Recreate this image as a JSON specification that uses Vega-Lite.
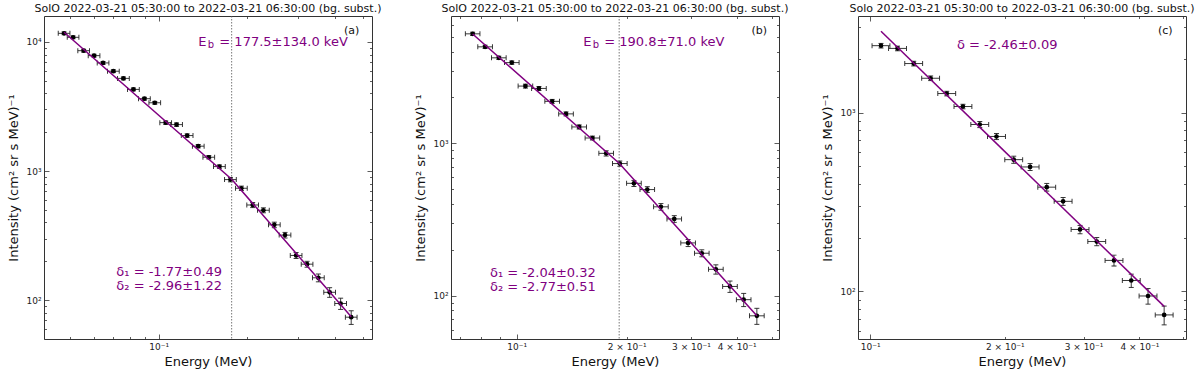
{
  "$schema": "https://vega.github.io/schema/vega-lite/v6.json",
  "padding": {"left": 7, "top": 2, "right": 0, "bottom": 0},
  "bounds": "flush",
  "spacing": 79,
  "config": {
    "font": "DejaVu Sans",
    "view": {"stroke": "#333", "strokeWidth": 1},
    "axis": {"domain": false, "grid": false, "labelFont": "DejaVu Sans", "labelFontSize": 9, "labelColor": "#222", "titleFont": "DejaVu Sans", "titleFontSize": 13, "titleFontWeight": "normal", "titleColor": "#111", "tickColor": "#333", "tickWidth": 0.8, "labelOverlap": false, "labelFlush": false},
    "title": {"font": "DejaVu Sans", "fontSize": 11, "fontWeight": "normal", "color": "#111", "offset": 2}
  },
  "datasets": {
    "spec": [
      {"ch": 1, "E": 0.04754, "I": 11670, "elo": 0.0454, "ehi": 0.04978, "ilo": 11378, "ihi": 11962},
      {"ch": 2, "E": 0.05102, "I": 10870, "elo": 0.04873, "ehi": 0.05342, "ilo": 10598, "ihi": 11142},
      {"ch": 3, "E": 0.05546, "I": 8566, "elo": 0.05297, "ehi": 0.05807, "ilo": 8352, "ihi": 8780},
      {"ch": 4, "E": 0.06018, "I": 7840, "elo": 0.05747, "ehi": 0.06301, "ilo": 7644, "ihi": 8036},
      {"ch": 5, "E": 0.06459, "I": 6883, "elo": 0.06168, "ehi": 0.06763, "ilo": 6711, "ihi": 7055},
      {"ch": 6, "E": 0.07004, "I": 5938, "elo": 0.06689, "ehi": 0.07334, "ilo": 5790, "ihi": 6086},
      {"ch": 7, "E": 0.0758, "I": 5225, "elo": 0.07239, "ehi": 0.07937, "ilo": 5094, "ihi": 5356},
      {"ch": 8, "E": 0.082, "I": 4293, "elo": 0.07831, "ehi": 0.08586, "ilo": 4186, "ihi": 4400},
      {"ch": 9, "E": 0.0894, "I": 3637, "elo": 0.08538, "ehi": 0.09361, "ilo": 3546, "ihi": 3728},
      {"ch": 10, "E": 0.097, "I": 3382, "elo": 0.09264, "ehi": 0.10157, "ilo": 3297, "ihi": 3467},
      {"ch": 11, "E": 0.1057, "I": 2373, "elo": 0.10094, "ehi": 0.11068, "ilo": 2302, "ihi": 2444},
      {"ch": 12, "E": 0.1151, "I": 2290, "elo": 0.10992, "ehi": 0.12052, "ilo": 2221, "ihi": 2359},
      {"ch": 13, "E": 0.1251, "I": 1884, "elo": 0.11947, "ehi": 0.13099, "ilo": 1827, "ihi": 1941},
      {"ch": 14, "E": 0.1365, "I": 1559, "elo": 0.13036, "ehi": 0.14293, "ilo": 1512, "ihi": 1606},
      {"ch": 15, "E": 0.1483, "I": 1280, "elo": 0.14163, "ehi": 0.15529, "ilo": 1242, "ihi": 1318},
      {"ch": 16, "E": 0.1612, "I": 1083, "elo": 0.15395, "ehi": 0.16879, "ilo": 1051, "ihi": 1115},
      {"ch": 17, "E": 0.1758, "I": 859, "elo": 0.16789, "ehi": 0.18408, "ilo": 825, "ihi": 893},
      {"ch": 18, "E": 0.1916, "I": 736, "elo": 0.18298, "ehi": 0.20062, "ilo": 707, "ihi": 765},
      {"ch": 19, "E": 0.2094, "I": 546, "elo": 0.19998, "ehi": 0.21926, "ilo": 521, "ihi": 571},
      {"ch": 20, "E": 0.2278, "I": 497, "elo": 0.21755, "ehi": 0.23853, "ilo": 475, "ihi": 519},
      {"ch": 21, "E": 0.2482, "I": 383, "elo": 0.23704, "ehi": 0.25989, "ilo": 364, "ihi": 402},
      {"ch": 22, "E": 0.27, "I": 319, "elo": 0.25785, "ehi": 0.28272, "ilo": 303, "ihi": 335},
      {"ch": 23, "E": 0.2946, "I": 222, "elo": 0.28135, "ehi": 0.30847, "ilo": 210, "ihi": 234},
      {"ch": 24, "E": 0.3211, "I": 190, "elo": 0.30666, "ehi": 0.33622, "ilo": 180, "ihi": 200},
      {"ch": 25, "E": 0.3509, "I": 149, "elo": 0.33512, "ehi": 0.36743, "ilo": 138.6, "ihi": 159.4},
      {"ch": 26, "E": 0.3835, "I": 115, "elo": 0.36625, "ehi": 0.40156, "ilo": 105.2, "ihi": 124.8},
      {"ch": 27, "E": 0.4181, "I": 94.2, "elo": 0.39929, "ehi": 0.43779, "ilo": 84.8, "ihi": 103.6},
      {"ch": 28, "E": 0.4543, "I": 73.8, "elo": 0.43387, "ehi": 0.4757, "ilo": 64.9, "ihi": 82.7}
    ],
    "fit_a": [{"E": 0.04754, "I": 11900}, {"E": 0.1775, "I": 864}, {"E": 0.4543, "I": 74.5}],
    "fit_b": [{"E": 0.0758, "I": 5214}, {"E": 0.1908, "I": 740}, {"E": 0.4543, "I": 73.9}],
    "fit_c": [{"E": 0.1057, "I": 2857}, {"E": 0.4543, "I": 82.4}]
  },
  "hconcat": [
    {
      "width": 328, "height": 323,
      "title": "SolO 2022-03-21 05:30:00 to 2022-03-21 06:30:00 (bg. subst.)",
      "resolve": {"axis": {"x": "independent", "y": "independent"}},
      "layer": [
        {
          "data": {"name": "spec"},
          "layer": [
            {"mark": {"type": "rule", "color": "#222", "strokeWidth": 0.9},
             "encoding": {
               "x": {"field": "elo", "type": "quantitative", "scale": {"type": "log", "domain": [0.0406, 0.535], "nice": false}, "axis": null},
               "x2": {"field": "ehi"},
               "y": {"field": "I", "type": "quantitative", "scale": {"type": "log", "domain": [50, 15900], "nice": false}, "axis": null}}},
            {"mark": {"type": "rule", "color": "#222", "strokeWidth": 0.9},
             "encoding": {
               "x": {"field": "E", "type": "quantitative", "scale": {"type": "log", "domain": [0.0406, 0.535], "nice": false}, "axis": null},
               "y": {"field": "ilo", "type": "quantitative", "scale": {"type": "log", "domain": [50, 15900], "nice": false}, "axis": null},
               "y2": {"field": "ihi"}}},
            {"mark": {"type": "tick", "orient": "vertical", "size": 5, "thickness": 0.9, "color": "#222", "opacity": 1},
             "encoding": {
               "x": {"field": "elo", "type": "quantitative", "scale": {"type": "log", "domain": [0.0406, 0.535], "nice": false}, "axis": null},
               "y": {"field": "I", "type": "quantitative", "scale": {"type": "log", "domain": [50, 15900], "nice": false}, "axis": null}}},
            {"mark": {"type": "tick", "orient": "vertical", "size": 5, "thickness": 0.9, "color": "#222", "opacity": 1},
             "encoding": {
               "x": {"field": "ehi", "type": "quantitative", "scale": {"type": "log", "domain": [0.0406, 0.535], "nice": false}, "axis": null},
               "y": {"field": "I", "type": "quantitative", "scale": {"type": "log", "domain": [50, 15900], "nice": false}, "axis": null}}},
            {"mark": {"type": "tick", "orient": "horizontal", "size": 5, "thickness": 0.9, "color": "#222", "opacity": 1},
             "encoding": {
               "x": {"field": "E", "type": "quantitative", "scale": {"type": "log", "domain": [0.0406, 0.535], "nice": false}, "axis": null},
               "y": {"field": "ilo", "type": "quantitative", "scale": {"type": "log", "domain": [50, 15900], "nice": false}, "axis": null}}},
            {"mark": {"type": "tick", "orient": "horizontal", "size": 5, "thickness": 0.9, "color": "#222", "opacity": 1},
             "encoding": {
               "x": {"field": "E", "type": "quantitative", "scale": {"type": "log", "domain": [0.0406, 0.535], "nice": false}, "axis": null},
               "y": {"field": "ihi", "type": "quantitative", "scale": {"type": "log", "domain": [50, 15900], "nice": false}, "axis": null}}}
          ]
        },
        {"data": {"name": "spec"},
         "mark": {"type": "circle", "color": "black", "opacity": 1, "size": 22},
         "encoding": {
           "x": {"field": "E", "type": "quantitative", "scale": {"type": "log", "domain": [0.0406, 0.535], "nice": false},
                 "axis": {"orient": "bottom", "title": "Energy (MeV)", "values": [0.05, 0.06, 0.07, 0.08, 0.09, 0.1, 0.2, 0.3, 0.4, 0.5],
                          "labelExpr": "datum.value == 0.1 ? '10⁻¹' : ''",
                          "tickSize": {"condition": {"test": "datum.value == 0.1", "value": -5}, "value": -2.5},
                          "labelPadding": {"condition": {"test": "datum.value == 0.1", "value": 8}, "value": 5.5},
                          "titlePadding": 4}},
           "y": {"field": "I", "type": "quantitative", "scale": {"type": "log", "domain": [50, 15900], "nice": false},
                 "axis": {"orient": "left", "title": "Intensity (cm² sr s MeV)⁻¹",
                          "values": [50, 60, 70, 80, 90, 100, 200, 300, 400, 500, 600, 700, 800, 900, 1000, 2000, 3000, 4000, 5000, 6000, 7000, 8000, 9000, 10000],
                          "labelExpr": "datum.value == 100 ? '10²' : datum.value == 1000 ? '10³' : datum.value == 10000 ? '10⁴' : ''",
                          "tickSize": {"condition": {"test": "datum.value == 100 || datum.value == 1000 || datum.value == 10000", "value": -5}, "value": -2.5},
                          "labelPadding": {"condition": {"test": "datum.value == 100 || datum.value == 1000 || datum.value == 10000", "value": 8}, "value": 5.5},
                          "titlePadding": 5}}}},
        {"data": {"name": "fit_a"},
         "mark": {"type": "line", "color": "#800080", "strokeWidth": 1.5},
         "encoding": {
           "x": {"field": "E", "type": "quantitative", "scale": {"type": "log", "domain": [0.0406, 0.535], "nice": false}, "axis": null},
           "y": {"field": "I", "type": "quantitative", "scale": {"type": "log", "domain": [50, 15900], "nice": false}, "axis": null}}},
        {"data": {"values": [{}]},
         "mark": {"type": "rule", "color": "#555", "strokeWidth": 0.8, "strokeDash": [1.5, 1.5]},
         "encoding": {"x": {"datum": 0.1775, "type": "quantitative", "scale": {"type": "log", "domain": [0.0406, 0.535], "nice": false}, "axis": null}}},
        {"data": {"values": [{}]},
         "mark": {"type": "text", "text": "E", "align": "left", "baseline": "middle", "fontSize": 13, "color": "#800080"},
         "encoding": {
           "x": {"datum": 0.1366, "type": "quantitative", "scale": {"type": "log", "domain": [0.0406, 0.535], "nice": false}, "axis": null},
           "y": {"datum": 10000, "type": "quantitative", "scale": {"type": "log", "domain": [50, 15900], "nice": false}, "axis": null}}},
        {"data": {"values": [{}]},
         "mark": {"type": "text", "text": "b", "align": "left", "baseline": "middle", "fontSize": 10, "dx": 9.5, "dy": 3.5, "color": "#800080"},
         "encoding": {
           "x": {"datum": 0.1366, "type": "quantitative", "scale": {"type": "log", "domain": [0.0406, 0.535], "nice": false}, "axis": null},
           "y": {"datum": 10000, "type": "quantitative", "scale": {"type": "log", "domain": [50, 15900], "nice": false}, "axis": null}}},
        {"data": {"values": [{}]},
         "mark": {"type": "text", "text": "= 177.5±134.0 keV", "align": "left", "baseline": "middle", "fontSize": 13, "dx": 21, "color": "#800080"},
         "encoding": {
           "x": {"datum": 0.1366, "type": "quantitative", "scale": {"type": "log", "domain": [0.0406, 0.535], "nice": false}, "axis": null},
           "y": {"datum": 10000, "type": "quantitative", "scale": {"type": "log", "domain": [50, 15900], "nice": false}, "axis": null}}},
        {"data": {"values": [{}]},
         "mark": {"type": "text", "text": "(a)", "align": "right", "baseline": "middle", "fontSize": 11, "color": "#111"},
         "encoding": {
           "x": {"datum": 0.4842, "type": "quantitative", "scale": {"type": "log", "domain": [0.0406, 0.535], "nice": false}, "axis": null},
           "y": {"datum": 12160, "type": "quantitative", "scale": {"type": "log", "domain": [50, 15900], "nice": false}, "axis": null}}},
        {"data": {"values": [{}]},
         "mark": {"type": "text", "text": "δ₁ = -1.77±0.49", "align": "left", "baseline": "middle", "fontSize": 13, "color": "#800080"},
         "encoding": {
           "x": {"datum": 0.0717, "type": "quantitative", "scale": {"type": "log", "domain": [0.0406, 0.535], "nice": false}, "axis": null},
           "y": {"datum": 164.5, "type": "quantitative", "scale": {"type": "log", "domain": [50, 15900], "nice": false}, "axis": null}}},
        {"data": {"values": [{}]},
         "mark": {"type": "text", "text": "δ₂ = -2.96±1.22", "align": "left", "baseline": "middle", "fontSize": 13, "color": "#800080"},
         "encoding": {
           "x": {"datum": 0.0717, "type": "quantitative", "scale": {"type": "log", "domain": [0.0406, 0.535], "nice": false}, "axis": null},
           "y": {"datum": 128.2, "type": "quantitative", "scale": {"type": "log", "domain": [50, 15900], "nice": false}, "axis": null}}},
        {"data": {"name": "fit_a"},
         "mark": {"type": "point", "opacity": 0},
         "encoding": {
           "x": {"field": "E", "type": "quantitative", "scale": {"type": "log", "domain": [0.0406, 0.535], "nice": false},
                 "axis": {"orient": "top", "title": null, "labels": false, "values": [0.05, 0.06, 0.07, 0.08, 0.09, 0.1, 0.2, 0.3, 0.4, 0.5],
                          "tickSize": {"condition": {"test": "datum.value == 0.1", "value": -5}, "value": -2.5}}},
           "y": {"field": "I", "type": "quantitative", "scale": {"type": "log", "domain": [50, 15900], "nice": false},
                 "axis": {"orient": "right", "title": null, "labels": false,
                          "values": [50, 60, 70, 80, 90, 100, 200, 300, 400, 500, 600, 700, 800, 900, 1000, 2000, 3000, 4000, 5000, 6000, 7000, 8000, 9000, 10000],
                          "tickSize": {"condition": {"test": "datum.value == 100 || datum.value == 1000 || datum.value == 10000", "value": -5}, "value": -2.5}}}}}
      ]
    },
    {
      "width": 328, "height": 323,
      "title": "SolO 2022-03-21 05:30:00 to 2022-03-21 06:30:00 (bg. subst.)",
      "resolve": {"axis": {"x": "independent", "y": "independent"}},
      "layer": [
        {
          "data": {"name": "spec"},
          "transform": [{"filter": "datum.ch >= 7"}],
          "layer": [
            {"mark": {"type": "rule", "color": "#222", "strokeWidth": 0.9},
             "encoding": {
               "x": {"field": "elo", "type": "quantitative", "scale": {"type": "log", "domain": [0.06614, 0.5223], "nice": false}, "axis": null},
               "x2": {"field": "ehi"},
               "y": {"field": "I", "type": "quantitative", "scale": {"type": "log", "domain": [52, 6840], "nice": false}, "axis": null}}},
            {"mark": {"type": "rule", "color": "#222", "strokeWidth": 0.9},
             "encoding": {
               "x": {"field": "E", "type": "quantitative", "scale": {"type": "log", "domain": [0.06614, 0.5223], "nice": false}, "axis": null},
               "y": {"field": "ilo", "type": "quantitative", "scale": {"type": "log", "domain": [52, 6840], "nice": false}, "axis": null},
               "y2": {"field": "ihi"}}},
            {"mark": {"type": "tick", "orient": "vertical", "size": 5, "thickness": 0.9, "color": "#222", "opacity": 1},
             "encoding": {
               "x": {"field": "elo", "type": "quantitative", "scale": {"type": "log", "domain": [0.06614, 0.5223], "nice": false}, "axis": null},
               "y": {"field": "I", "type": "quantitative", "scale": {"type": "log", "domain": [52, 6840], "nice": false}, "axis": null}}},
            {"mark": {"type": "tick", "orient": "vertical", "size": 5, "thickness": 0.9, "color": "#222", "opacity": 1},
             "encoding": {
               "x": {"field": "ehi", "type": "quantitative", "scale": {"type": "log", "domain": [0.06614, 0.5223], "nice": false}, "axis": null},
               "y": {"field": "I", "type": "quantitative", "scale": {"type": "log", "domain": [52, 6840], "nice": false}, "axis": null}}},
            {"mark": {"type": "tick", "orient": "horizontal", "size": 5, "thickness": 0.9, "color": "#222", "opacity": 1},
             "encoding": {
               "x": {"field": "E", "type": "quantitative", "scale": {"type": "log", "domain": [0.06614, 0.5223], "nice": false}, "axis": null},
               "y": {"field": "ilo", "type": "quantitative", "scale": {"type": "log", "domain": [52, 6840], "nice": false}, "axis": null}}},
            {"mark": {"type": "tick", "orient": "horizontal", "size": 5, "thickness": 0.9, "color": "#222", "opacity": 1},
             "encoding": {
               "x": {"field": "E", "type": "quantitative", "scale": {"type": "log", "domain": [0.06614, 0.5223], "nice": false}, "axis": null},
               "y": {"field": "ihi", "type": "quantitative", "scale": {"type": "log", "domain": [52, 6840], "nice": false}, "axis": null}}}
          ]
        },
        {"data": {"name": "spec"},
         "transform": [{"filter": "datum.ch >= 7"}],
         "mark": {"type": "circle", "color": "black", "opacity": 1, "size": 22},
         "encoding": {
           "x": {"field": "E", "type": "quantitative", "scale": {"type": "log", "domain": [0.06614, 0.5223], "nice": false},
                 "axis": {"orient": "bottom", "title": "Energy (MeV)", "values": [0.07, 0.08, 0.09, 0.1, 0.2, 0.3, 0.4, 0.5],
                          "labelExpr": "datum.value == 0.1 ? '10⁻¹' : datum.value == 0.2 ? '2 × 10⁻¹' : datum.value == 0.3 ? '3 × 10⁻¹' : datum.value == 0.4 ? '4 × 10⁻¹' : ''",
                          "tickSize": {"condition": {"test": "datum.value == 0.1", "value": -5}, "value": -2.5},
                          "labelPadding": {"condition": {"test": "datum.value == 0.1", "value": 8}, "value": 5.5},
                          "titlePadding": 4}},
           "y": {"field": "I", "type": "quantitative", "scale": {"type": "log", "domain": [52, 6840], "nice": false},
                 "axis": {"orient": "left", "title": "Intensity (cm² sr s MeV)⁻¹",
                          "values": [60, 70, 80, 90, 100, 200, 300, 400, 500, 600, 700, 800, 900, 1000, 2000, 3000, 4000, 5000, 6000],
                          "labelExpr": "datum.value == 100 ? '10²' : datum.value == 1000 ? '10³' : ''",
                          "tickSize": {"condition": {"test": "datum.value == 100 || datum.value == 1000", "value": -5}, "value": -2.5},
                          "labelPadding": {"condition": {"test": "datum.value == 100 || datum.value == 1000", "value": 8}, "value": 5.5},
                          "titlePadding": 5}}}},
        {"data": {"name": "fit_b"},
         "mark": {"type": "line", "color": "#800080", "strokeWidth": 1.5},
         "encoding": {
           "x": {"field": "E", "type": "quantitative", "scale": {"type": "log", "domain": [0.06614, 0.5223], "nice": false}, "axis": null},
           "y": {"field": "I", "type": "quantitative", "scale": {"type": "log", "domain": [52, 6840], "nice": false}, "axis": null}}},
        {"data": {"values": [{}]},
         "mark": {"type": "rule", "color": "#555", "strokeWidth": 0.8, "strokeDash": [1.5, 1.5]},
         "encoding": {"x": {"datum": 0.1908, "type": "quantitative", "scale": {"type": "log", "domain": [0.06614, 0.5223], "nice": false}, "axis": null}}},
        {"data": {"values": [{}]},
         "mark": {"type": "text", "text": "E", "align": "left", "baseline": "middle", "fontSize": 13, "color": "#800080"},
         "encoding": {
           "x": {"datum": 0.1521, "type": "quantitative", "scale": {"type": "log", "domain": [0.06614, 0.5223], "nice": false}, "axis": null},
           "y": {"datum": 4620, "type": "quantitative", "scale": {"type": "log", "domain": [52, 6840], "nice": false}, "axis": null}}},
        {"data": {"values": [{}]},
         "mark": {"type": "text", "text": "b", "align": "left", "baseline": "middle", "fontSize": 10, "dx": 9.5, "dy": 3.5, "color": "#800080"},
         "encoding": {
           "x": {"datum": 0.1521, "type": "quantitative", "scale": {"type": "log", "domain": [0.06614, 0.5223], "nice": false}, "axis": null},
           "y": {"datum": 4620, "type": "quantitative", "scale": {"type": "log", "domain": [52, 6840], "nice": false}, "axis": null}}},
        {"data": {"values": [{}]},
         "mark": {"type": "text", "text": "= 190.8±71.0 keV", "align": "left", "baseline": "middle", "fontSize": 13, "dx": 21, "color": "#800080"},
         "encoding": {
           "x": {"datum": 0.1521, "type": "quantitative", "scale": {"type": "log", "domain": [0.06614, 0.5223], "nice": false}, "axis": null},
           "y": {"datum": 4620, "type": "quantitative", "scale": {"type": "log", "domain": [52, 6840], "nice": false}, "axis": null}}},
        {"data": {"values": [{}]},
         "mark": {"type": "text", "text": "(b)", "align": "right", "baseline": "middle", "fontSize": 11, "color": "#111"},
         "encoding": {
           "x": {"datum": 0.4842, "type": "quantitative", "scale": {"type": "log", "domain": [0.06614, 0.5223], "nice": false}, "axis": null},
           "y": {"datum": 5433, "type": "quantitative", "scale": {"type": "log", "domain": [52, 6840], "nice": false}, "axis": null}}},
        {"data": {"values": [{}]},
         "mark": {"type": "text", "text": "δ₁ = -2.04±0.32", "align": "left", "baseline": "middle", "fontSize": 13, "color": "#800080"},
         "encoding": {
           "x": {"datum": 0.08454, "type": "quantitative", "scale": {"type": "log", "domain": [0.06614, 0.5223], "nice": false}, "axis": null},
           "y": {"datum": 140.3, "type": "quantitative", "scale": {"type": "log", "domain": [52, 6840], "nice": false}, "axis": null}}},
        {"data": {"values": [{}]},
         "mark": {"type": "text", "text": "δ₂ = -2.77±0.51", "align": "left", "baseline": "middle", "fontSize": 13, "color": "#800080"},
         "encoding": {
           "x": {"datum": 0.08454, "type": "quantitative", "scale": {"type": "log", "domain": [0.06614, 0.5223], "nice": false}, "axis": null},
           "y": {"datum": 113.5, "type": "quantitative", "scale": {"type": "log", "domain": [52, 6840], "nice": false}, "axis": null}}},
        {"data": {"name": "fit_b"},
         "mark": {"type": "point", "opacity": 0},
         "encoding": {
           "x": {"field": "E", "type": "quantitative", "scale": {"type": "log", "domain": [0.06614, 0.5223], "nice": false},
                 "axis": {"orient": "top", "title": null, "labels": false, "values": [0.07, 0.08, 0.09, 0.1, 0.2, 0.3, 0.4, 0.5],
                          "tickSize": {"condition": {"test": "datum.value == 0.1", "value": -5}, "value": -2.5}}},
           "y": {"field": "I", "type": "quantitative", "scale": {"type": "log", "domain": [52, 6840], "nice": false},
                 "axis": {"orient": "right", "title": null, "labels": false,
                          "values": [60, 70, 80, 90, 100, 200, 300, 400, 500, 600, 700, 800, 900, 1000, 2000, 3000, 4000, 5000, 6000],
                          "tickSize": {"condition": {"test": "datum.value == 100 || datum.value == 1000", "value": -5}, "value": -2.5}}}}}
      ]
    },
    {
      "width": 328, "height": 323,
      "title": "Solo 2022-03-21 05:30:00 to 2022-03-21 06:30:00 (bg. subst.)",
      "resolve": {"axis": {"x": "independent", "y": "independent"}},
      "layer": [
        {
          "data": {"name": "spec"},
          "transform": [{"filter": "datum.ch >= 11"}],
          "layer": [
            {"mark": {"type": "rule", "color": "#222", "strokeWidth": 0.9},
             "encoding": {
               "x": {"field": "elo", "type": "quantitative", "scale": {"type": "log", "domain": [0.0939, 0.5084], "nice": false}, "axis": null},
               "x2": {"field": "ehi"},
               "y": {"field": "I", "type": "quantitative", "scale": {"type": "log", "domain": [54.1, 3478], "nice": false}, "axis": null}}},
            {"mark": {"type": "rule", "color": "#222", "strokeWidth": 0.9},
             "encoding": {
               "x": {"field": "E", "type": "quantitative", "scale": {"type": "log", "domain": [0.0939, 0.5084], "nice": false}, "axis": null},
               "y": {"field": "ilo", "type": "quantitative", "scale": {"type": "log", "domain": [54.1, 3478], "nice": false}, "axis": null},
               "y2": {"field": "ihi"}}},
            {"mark": {"type": "tick", "orient": "vertical", "size": 5, "thickness": 0.9, "color": "#222", "opacity": 1},
             "encoding": {
               "x": {"field": "elo", "type": "quantitative", "scale": {"type": "log", "domain": [0.0939, 0.5084], "nice": false}, "axis": null},
               "y": {"field": "I", "type": "quantitative", "scale": {"type": "log", "domain": [54.1, 3478], "nice": false}, "axis": null}}},
            {"mark": {"type": "tick", "orient": "vertical", "size": 5, "thickness": 0.9, "color": "#222", "opacity": 1},
             "encoding": {
               "x": {"field": "ehi", "type": "quantitative", "scale": {"type": "log", "domain": [0.0939, 0.5084], "nice": false}, "axis": null},
               "y": {"field": "I", "type": "quantitative", "scale": {"type": "log", "domain": [54.1, 3478], "nice": false}, "axis": null}}},
            {"mark": {"type": "tick", "orient": "horizontal", "size": 5, "thickness": 0.9, "color": "#222", "opacity": 1},
             "encoding": {
               "x": {"field": "E", "type": "quantitative", "scale": {"type": "log", "domain": [0.0939, 0.5084], "nice": false}, "axis": null},
               "y": {"field": "ilo", "type": "quantitative", "scale": {"type": "log", "domain": [54.1, 3478], "nice": false}, "axis": null}}},
            {"mark": {"type": "tick", "orient": "horizontal", "size": 5, "thickness": 0.9, "color": "#222", "opacity": 1},
             "encoding": {
               "x": {"field": "E", "type": "quantitative", "scale": {"type": "log", "domain": [0.0939, 0.5084], "nice": false}, "axis": null},
               "y": {"field": "ihi", "type": "quantitative", "scale": {"type": "log", "domain": [54.1, 3478], "nice": false}, "axis": null}}}
          ]
        },
        {"data": {"name": "spec"},
         "transform": [{"filter": "datum.ch >= 11"}],
         "mark": {"type": "circle", "color": "black", "opacity": 1, "size": 22},
         "encoding": {
           "x": {"field": "E", "type": "quantitative", "scale": {"type": "log", "domain": [0.0939, 0.5084], "nice": false},
                 "axis": {"orient": "bottom", "title": "Energy (MeV)", "values": [0.1, 0.2, 0.3, 0.4, 0.5],
                          "labelExpr": "datum.value == 0.1 ? '10⁻¹' : datum.value == 0.2 ? '2 × 10⁻¹' : datum.value == 0.3 ? '3 × 10⁻¹' : datum.value == 0.4 ? '4 × 10⁻¹' : ''",
                          "tickSize": {"condition": {"test": "datum.value == 0.1", "value": -5}, "value": -2.5},
                          "labelPadding": {"condition": {"test": "datum.value == 0.1", "value": 8}, "value": 5.5},
                          "titlePadding": 4}},
           "y": {"field": "I", "type": "quantitative", "scale": {"type": "log", "domain": [54.1, 3478], "nice": false},
                 "axis": {"orient": "left", "title": "Intensity (cm² sr s MeV)⁻¹",
                          "values": [60, 70, 80, 90, 100, 200, 300, 400, 500, 600, 700, 800, 900, 1000, 2000, 3000],
                          "labelExpr": "datum.value == 100 ? '10²' : datum.value == 1000 ? '10³' : ''",
                          "tickSize": {"condition": {"test": "datum.value == 100 || datum.value == 1000", "value": -5}, "value": -2.5},
                          "labelPadding": {"condition": {"test": "datum.value == 100 || datum.value == 1000", "value": 8}, "value": 5.5},
                          "titlePadding": 5}}}},
        {"data": {"name": "fit_c"},
         "mark": {"type": "line", "color": "#800080", "strokeWidth": 1.5},
         "encoding": {
           "x": {"field": "E", "type": "quantitative", "scale": {"type": "log", "domain": [0.0939, 0.5084], "nice": false}, "axis": null},
           "y": {"field": "I", "type": "quantitative", "scale": {"type": "log", "domain": [54.1, 3478], "nice": false}, "axis": null}}},
        {"data": {"values": [{}]},
         "mark": {"type": "text", "text": "δ = -2.46±0.09", "align": "left", "baseline": "middle", "fontSize": 13, "color": "#800080"},
         "encoding": {
           "x": {"datum": 0.1563, "type": "quantitative", "scale": {"type": "log", "domain": [0.0939, 0.5084], "nice": false}, "axis": null},
           "y": {"datum": 2403, "type": "quantitative", "scale": {"type": "log", "domain": [54.1, 3478], "nice": false}, "axis": null}}},
        {"data": {"values": [{}]},
         "mark": {"type": "text", "text": "(c)", "align": "right", "baseline": "middle", "fontSize": 11, "color": "#111"},
         "encoding": {
           "x": {"datum": 0.4746, "type": "quantitative", "scale": {"type": "log", "domain": [0.0939, 0.5084], "nice": false}, "axis": null},
           "y": {"datum": 2856, "type": "quantitative", "scale": {"type": "log", "domain": [54.1, 3478], "nice": false}, "axis": null}}},
        {"data": {"name": "fit_c"},
         "mark": {"type": "point", "opacity": 0},
         "encoding": {
           "x": {"field": "E", "type": "quantitative", "scale": {"type": "log", "domain": [0.0939, 0.5084], "nice": false},
                 "axis": {"orient": "top", "title": null, "labels": false, "values": [0.1, 0.2, 0.3, 0.4, 0.5],
                          "tickSize": {"condition": {"test": "datum.value == 0.1", "value": -5}, "value": -2.5}}},
           "y": {"field": "I", "type": "quantitative", "scale": {"type": "log", "domain": [54.1, 3478], "nice": false},
                 "axis": {"orient": "right", "title": null, "labels": false,
                          "values": [60, 70, 80, 90, 100, 200, 300, 400, 500, 600, 700, 800, 900, 1000, 2000, 3000],
                          "tickSize": {"condition": {"test": "datum.value == 100 || datum.value == 1000", "value": -5}, "value": -2.5}}}}}
      ]
    }
  ]
}
